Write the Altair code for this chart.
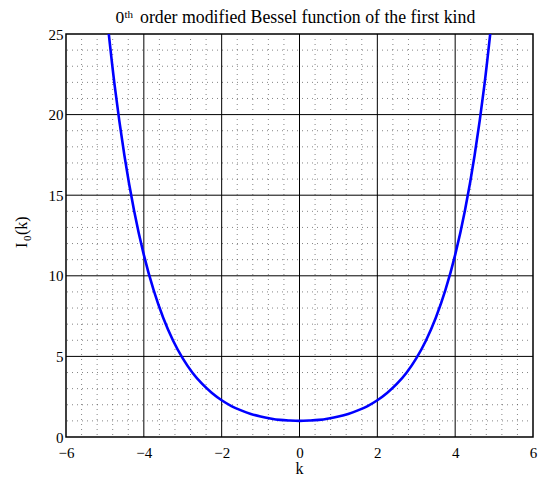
import altair as alt
import pandas as pd

# ---- data ----
k_vals = [-5.0, -4.75, -4.5, -4.25, -4.0, -3.75, -3.5, -3.25, -3.0, -2.75, -2.5,
          -2.25, -2.0, -1.75, -1.5, -1.25, -1.0, -0.75, -0.5, -0.25, 0.0,
          0.25, 0.5, 0.75, 1.0, 1.25, 1.5, 1.75, 2.0, 2.25, 2.5,
          2.75, 3.0, 3.25, 3.5, 3.75, 4.0, 4.25, 4.5, 4.75, 5.0]
i0_vals = [27.24, 21.81, 17.48, 14.04, 11.30, 9.12, 7.38, 5.99, 4.88, 3.99, 3.29,
           2.73, 2.28, 1.92, 1.65, 1.43, 1.27, 1.15, 1.06, 1.02, 1.00,
           1.02, 1.06, 1.15, 1.27, 1.43, 1.65, 1.92, 2.28, 2.73, 3.29,
           3.99, 4.88, 5.99, 7.38, 9.12, 11.30, 14.04, 17.48, 21.81, 27.24]

x_major = [-6, -4, -2, 0, 2, 4, 6]
y_major = [0, 5, 10, 15, 20, 25]
x_minor = [round(-6 + 0.4 * i, 2) for i in range(1, 30)]
y_minor = list(range(1, 25))

x_domain = [-6, 6]
y_domain = [0, 25]

W, H = 467, 403
FONT = "Liberation Serif"

df = pd.DataFrame({"k": k_vals, "I0": i0_vals})
xs = alt.Scale(domain=x_domain, nice=False, zero=False)
ys = alt.Scale(domain=y_domain, nice=False, zero=False)

x_axis = alt.Axis(
    values=x_major, grid=False, ticks=False, domain=False, title=None,
    labelFont=FONT, labelFontSize=15, labelColor="black",
    labelPadding=8, labelBaseline="top", labelFlush=False)
y_axis = alt.Axis(
    values=y_major, grid=False, ticks=False, domain=False, title=None,
    labelFont=FONT, labelFontSize=15, labelColor="black",
    labelPadding=3, labelBaseline="middle", labelFlush=False)

minor_x = alt.Chart(pd.DataFrame({"v": [v for v in x_minor if v not in x_major]})).mark_rule(
    color="#444444", strokeDash=[1, 4], strokeWidth=1, opacity=0.65
).encode(x=alt.X("v:Q", scale=xs, axis=x_axis))

minor_y = alt.Chart(pd.DataFrame({"w": [v for v in y_minor if v not in y_major]})).mark_rule(
    color="#444444", strokeDash=[1, 4], strokeWidth=1, opacity=0.65
).encode(y=alt.Y("w:Q", scale=ys, axis=y_axis))

major_x = alt.Chart(pd.DataFrame({"v": x_major[1:-1]})).mark_rule(
    color="black", strokeWidth=1
).encode(x=alt.X("v:Q", scale=xs, axis=x_axis))

major_y = alt.Chart(pd.DataFrame({"w": y_major[1:-1]})).mark_rule(
    color="black", strokeWidth=1
).encode(y=alt.Y("w:Q", scale=ys, axis=y_axis))

curve = alt.Chart(df).mark_line(
    color="#0000ff", strokeWidth=2.6, clip=True, interpolate="monotone"
).encode(
    x=alt.X("k:Q", scale=xs, axis=x_axis),
    y=alt.Y("I0:Q", scale=ys, axis=y_axis),
)

one = pd.DataFrame({"a": [0]})

def txt(text, x, y, size=15, angle=0, align="left"):
    return alt.Chart(one).mark_text(
        text=text, font=FONT, fontSize=size, color="black",
        align=align, baseline="alphabetic", angle=angle
    ).encode(x=alt.value(x), y=alt.value(y))

title_parts = [
    txt("0", 49.5, -11, size=17.5),
    txt("th", 58.5, -16.5, size=11),
    txt("order modified Bessel function of the first kind", 74, -11, size=17.8),
]
xlabel = txt("k", W / 2, 440, size=16, align="center")
ylabel_parts = [
    txt("I", -39, 214, size=16, angle=270),
    txt("0", -35.5, 207, size=11, angle=270),
    txt("(k)", -39, 201, size=16, angle=270),
]

chart = alt.layer(
    minor_x, minor_y, major_x, major_y, curve, *title_parts, xlabel, *ylabel_parts
).properties(
    width=W, height=H,
    background="white",
    autosize=alt.AutoSizeParams(type="none"),
    padding={"left": 58, "top": 26, "right": 5, "bottom": 40},
).configure_view(
    stroke="black", strokeWidth=1.5
)

chart.save("out.html", embed_options={"renderer": "svg", "actions": False})
